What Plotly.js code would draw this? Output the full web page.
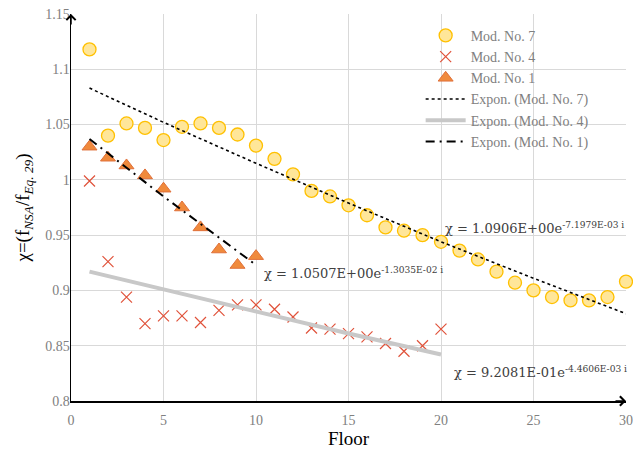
<!DOCTYPE html>
<html><head><meta charset="utf-8">
<script src="https://cdn.plot.ly/plotly-3.0.1.min.js"></script>
<style>html,body{margin:0;padding:0;background:#fff}#chart{width:633px;height:451px}</style>
</head><body><div id="chart"></div>
<script>
// Data
const floors7 = [1,2,3,4,5,6,7,8,9,10,11,12,13,14,15,16,17,18,19,20,21,22,23,24,25,26,27,28,29,30];
const mod7 = [1.118,1.040,1.051,1.047,1.036,1.048,1.051,1.047,1.041,1.031,1.019,1.005,0.990,0.985,0.977,0.968,0.957,0.954,0.950,0.944,0.936,0.928,0.917,0.907,0.900,0.894,0.891,0.891,0.894,0.908];
const floors4 = [1,2,3,4,5,6,7,8,9,10,11,12,13,14,15,16,17,18,19,20];
const mod4 = [0.999,0.926,0.894,0.870,0.877,0.877,0.871,0.882,0.887,0.887,0.883,0.876,0.866,0.865,0.861,0.858,0.852,0.845,0.850,0.865];
const floors1 = [1,2,3,4,5,6,7,8,9,10];
const mod1 = [1.030,1.020,1.013,1.004,0.992,0.975,0.957,0.937,0.923,0.931];
// Trend lines
const trendX7 = [1,5,10,15,20,25,30];
const trend7 = [1.083,1.052,1.015,0.979,0.944,0.911,0.879];
const trendX4 = [1,5,10,15,20];
const trend4 = [0.917,0.901,0.881,0.861,0.842];
const trendX1 = [1,5,10];
const trend1 = [1.037,0.985,0.923];
const legendNames = ["Mod. No. 7","Mod. No. 4","Mod. No. 1","Expon. (Mod. No. 7)","Expon. (Mod. No. 4)","Expon. (Mod. No. 1)"];
const eqTexts = [
  "χ = 1.0906E+00e<sup>-7.1979E-03 i</sup>",
  "χ = 1.0507E+00e<sup>-1.3035E-02 i</sup>",
  "χ = 9.2081E-01e<sup>-4.4606E-03 i</sup>"
];
const eqPos = [[20.1,0.9565],[10.3,0.916],[20.6,0.826]];

const traces = [
  {x:floors7,y:mod7,name:legendNames[0],type:'scatter',mode:'markers',cliponaxis:false,
   marker:{symbol:'circle',size:13,color:'#FFE699',line:{color:'#FFC000',width:1.3}}},
  {x:floors4,y:mod4,name:legendNames[1],type:'scatter',mode:'markers',cliponaxis:false,
   marker:{symbol:'x-thin-open',size:11,color:'#E0523A',line:{color:'#E0523A',width:1.2}}},
  {x:floors1,y:mod1,name:legendNames[2],type:'scatter',mode:'markers',cliponaxis:false,
   marker:{symbol:'triangle-up',size:13,color:'#F08A3C',line:{color:'#E0703A',width:1}}},
  {x:trendX7,y:trend7,name:legendNames[3],type:'scatter',mode:'lines',line:{color:'#000',width:1.6,dash:'dot'}},
  {x:trendX4,y:trend4,name:legendNames[4],type:'scatter',mode:'lines',line:{color:'#C8C8C8',width:4}},
  {x:trendX1,y:trend1,name:legendNames[5],type:'scatter',mode:'lines',line:{color:'#000',width:2,dash:'9px,5px,2px,5px'}}
];

const annotations = eqTexts.map((t,i)=>({x:eqPos[i][0],y:eqPos[i][1],xref:'x',yref:'y',text:t,showarrow:false,
  xanchor:'left',yanchor:'middle',font:{family:'DejaVu Serif',size:13,color:'#404040'}}));
annotations.push({x:30,y:0.8,xref:'x',yref:'y',ax:-12,ay:0,text:'',showarrow:true,arrowhead:4,arrowsize:1.2,arrowwidth:1.5,arrowcolor:'#000'});
annotations.push({x:0,y:1.15,xref:'x',yref:'y',ax:0,ay:12,text:'',showarrow:true,arrowhead:4,arrowsize:1.2,arrowwidth:1.5,arrowcolor:'#000'});

const layout = {
  width:633,height:451,
  margin:{l:71,r:7,t:14,b:50},
  paper_bgcolor:'#fff',plot_bgcolor:'#fff',
  font:{family:'Liberation Serif',color:'#808080',size:14},
  xaxis:{range:[0,30],dtick:5,tick0:0,showgrid:true,gridcolor:'#D9D9D9',gridwidth:1,zeroline:false,
    showline:true,linecolor:'#000',linewidth:1.5,ticks:'outside',ticklen:6,tickcolor:'rgba(0,0,0,0)',
    tickfont:{family:'Liberation Serif',size:14,color:'#808080'},
    title:{text:'Floor',font:{family:'Liberation Serif',size:19,color:'#000'},standoff:0}},
  yaxis:{range:[0.8,1.15],dtick:0.05,tick0:0.8,showgrid:true,gridcolor:'#D9D9D9',gridwidth:1,zeroline:false,
    showline:true,linecolor:'#000',linewidth:1.5,ticks:'',ticklabelstandoff:-3,
    tickfont:{family:'Liberation Serif',size:14,color:'#808080'},
    title:{text:'χ=(f<sub><i>NSA</i></sub>/f<sub><i>Eq. 29</i></sub>)',font:{family:'Liberation Serif',size:19,color:'#000'},standoff:10}},
  legend:{x:0.63,y:0.985,xanchor:'left',yanchor:'top',bgcolor:'rgba(0,0,0,0)',
    font:{family:'Liberation Serif',size:14,color:'#808080'},tracegroupgap:0,itemwidth:40},
  showlegend:true,
  annotations:annotations
};
Plotly.newPlot('chart',traces,layout,{displayModeBar:false,staticPlot:true});
</script></body></html>
